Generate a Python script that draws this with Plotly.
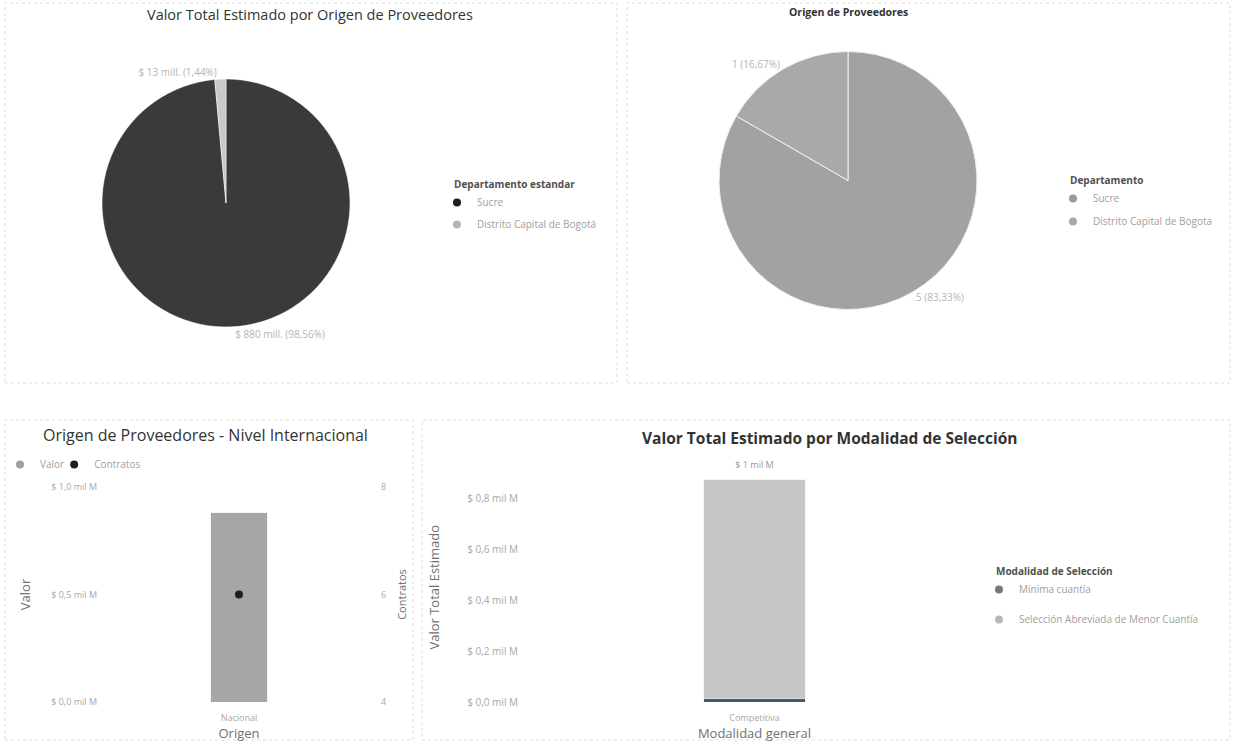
import plotly.graph_objects as go

W, H = 1233, 742

# ---------------- data ----------------
dept_labels_valor = ["Sucre", "Distrito Capital de Bogotá"]
dept_labels_contr = ["Sucre", "Distrito Capital de Bogota"]
valor_mill = [880, 12.9]          # $ mill.
contratos_dept = [5, 1]

origen_cats = ["Nacional"]
origen_valor = [0.88]             # $ mil M
origen_contratos = [6]

modalidad_cats = ["Competitiva"]
minima_cuantia = [0.013]          # $ mil M
seleccion_abreviada = [0.858]     # $ mil M

valor_tickvals = [0, 0.5, 1.0]
valor_ticktext = ["$ 0,0 mil M", "$ 0,5 mil M", "$ 1,0 mil M"]
contratos_tickvals = [4, 6, 8]
modal_tickvals = [0, 0.2, 0.4, 0.6, 0.8]
modal_ticktext = ["$ 0,0 mil M", "$ 0,2 mil M", "$ 0,4 mil M", "$ 0,6 mil M", "$ 0,8 mil M"]

# ---------------- helpers ----------------
def px(x):
    return x / W

def py(y):
    return 1 - y / H

FONT = "Open Sans"
TICK = dict(family=FONT, size=9, color="#a8a8a8")
TICK3 = dict(family=FONT, size=10, color="#a8a8a8")
AXT = dict(family=FONT, size=13, color="#707070")

fig = go.Figure()

# Pie 1
fig.add_trace(go.Pie(
    labels=dept_labels_valor, values=valor_mill, sort=False, direction="clockwise",
    rotation=0, marker=dict(colors=["#3a3a3a", "#c9c9c9"], line=dict(color="#ffffff", width=0.5)),
    textposition="outside", texttemplate="$ %{value:.0f} mill. (%{percent:.2%})",
    textfont=dict(family=FONT, size=10, color="#b4b4b4"),
    domain=dict(x=[px(102), px(350)], y=[py(327), py(79)]), showlegend=False,
))
# Pie 2
fig.add_trace(go.Pie(
    labels=dept_labels_contr, values=contratos_dept, sort=False, direction="clockwise",
    rotation=0, marker=dict(colors=["#a2a2a2", "#a9a9a9"], line=dict(color="#f2f2f2", width=1)),
    textposition="outside", texttemplate="%{value} (%{percent:.2%})",
    textfont=dict(family=FONT, size=10, color="#b4b4b4"),
    domain=dict(x=[px(719), px(977)], y=[py(310), py(51)]), showlegend=False,
))

# Combo chart: bar + dot
fig.add_trace(go.Bar(x=origen_cats, y=origen_valor, width=0.2, marker=dict(color="#a6a6a6"),
                     xaxis="x", yaxis="y", showlegend=False))
fig.add_trace(go.Scatter(x=origen_cats, y=origen_contratos, mode="markers",
                         marker=dict(color="#1e1e1e", size=8), xaxis="x", yaxis="y2", showlegend=False))

# Stacked bar chart
fig.add_trace(go.Bar(x=modalidad_cats, y=minima_cuantia, width=0.215, marker=dict(color="#4b5866"),
                     xaxis="x3", yaxis="y3", showlegend=False))
fig.add_trace(go.Bar(x=modalidad_cats, y=seleccion_abreviada, width=0.215, marker=dict(color="#c6c6c6"),
                     xaxis="x3", yaxis="y3", showlegend=False))
totals = [a + b for a, b in zip(minima_cuantia, seleccion_abreviada)]
fig.add_trace(go.Scatter(x=modalidad_cats, y=totals, mode="markers+text", texttemplate="$ %{y:.0f} mil M",
                         marker=dict(size=14, opacity=0),
                         textposition="top center", textfont=dict(family=FONT, size=9, color="#999999"),
                         xaxis="x3", yaxis="y3", showlegend=False, cliponaxis=False))

# Legend entries (circle markers)
def leg(name, color, legend, group, size=8):
    fig.add_trace(go.Scatter(x=[None], y=[None], mode="markers", name=name,
                             marker=dict(color=color, size=size, symbol="circle"),
                             legend=legend, legendgroup=group, xaxis="x", yaxis="y"))

leg(dept_labels_valor[0], "#1e1e1e", "legend", "a")
leg(dept_labels_valor[1], "#b5b5b5", "legend", "b")
leg(dept_labels_contr[0], "#9a9a9a", "legend2", "c")
leg(dept_labels_contr[1], "#a8a8a8", "legend2", "d")
leg("Valor", "#a0a0a0", "legend3", "e")
leg("Contratos", "#1e1e1e", "legend3", "f")
leg("Mínima cuantía", "#777777", "legend4", "g")
leg("Selección Abreviada de Menor Cuantía", "#b8b8b8", "legend4", "h")

LEGFONT = dict(family=FONT, size=10, color="#a0a0a0")
LEGTITLE = dict(family=FONT, size=10, color="#505050")

fig.update_layout(
    width=W, height=H, margin=dict(l=0, r=0, t=0, b=0, autoexpand=False),
    paper_bgcolor="white", plot_bgcolor="white",
    separators=",.", barmode="stack",
    font=dict(family=FONT),
    xaxis=dict(domain=[px(98), px(380)], range=[-0.5, 0.5], showgrid=False, zeroline=False,
               showline=False, tickfont=TICK, ticks="", ticklabelstandoff=9, automargin=False,
               title=dict(text="Origen", font=AXT, standoff=4)),
    yaxis=dict(domain=[py(702), py(487)], range=[0, 1.0], tickvals=valor_tickvals, automargin=False,
               ticktext=valor_ticktext, showgrid=False, zeroline=False, tickfont=TICK,
               title=dict(text="Valor", font=AXT, standoff=17)),
    yaxis2=dict(overlaying="y", side="right", anchor="x", range=[4, 8], tickvals=contratos_tickvals,
                showgrid=False, zeroline=False, tickfont=TICK, automargin=False,
                title=dict(text="Contratos", font=dict(family=FONT, size=11, color="#707070"), standoff=13)),
    xaxis3=dict(domain=[px(519), px(990)], range=[-0.5, 0.5], anchor="y3", showgrid=False,
                zeroline=False, tickfont=TICK, ticks="", ticklabelstandoff=9, automargin=False,
                title=dict(text="Modalidad general", font=AXT, standoff=4)),
    yaxis3=dict(domain=[py(702), py(472.5)], range=[0, 0.9], anchor="x3", tickvals=modal_tickvals,
                ticktext=modal_ticktext, showgrid=False, zeroline=False, tickfont=TICK3, automargin=False,
                title=dict(text="Valor Total Estimado", font=AXT, standoff=24)),
    legend=dict(x=px(452), y=py(175), xanchor="left", yanchor="top", bgcolor="rgba(0,0,0,0)",
                title=dict(text="<b>Departamento estandar</b>", font=LEGTITLE), font=LEGFONT,
                traceorder="grouped", tracegroupgap=3, indentation=-15),
    legend2=dict(x=px(1068), y=py(171), xanchor="left", yanchor="top", bgcolor="rgba(0,0,0,0)",
                 title=dict(text="<b>Departamento</b>", font=LEGTITLE), font=LEGFONT,
                 traceorder="grouped", tracegroupgap=4, indentation=-15),
    legend3=dict(x=px(15), y=py(450), xanchor="left", yanchor="top", orientation="h",
                 bgcolor="rgba(0,0,0,0)", font=LEGFONT, tracegroupgap=0, indentation=-15),
    legend4=dict(x=px(994), y=py(562), xanchor="left", yanchor="top", bgcolor="rgba(0,0,0,0)",
                 title=dict(text="<b>Modalidad de Selección</b>", font=LEGTITLE), font=LEGFONT,
                 traceorder="grouped", tracegroupgap=11, indentation=-15),
)

# Panel borders
for x0, y0, x1, y1 in [(5, 3, 617, 383), (627, 3, 1230, 383), (5, 420, 413, 740), (422, 420, 1230, 740)]:
    fig.add_shape(type="rect", xref="paper", yref="paper", x0=px(x0), y0=py(y1), x1=px(x1), y1=py(y0),
                  line=dict(color="#dddddd", width=1, dash="dot"), fillcolor="rgba(0,0,0,0)", layer="below")

# Titles
titles = [
    ("Valor Total Estimado por Origen de Proveedores", 310, 15, 14.5),
    ("<b>Origen de Proveedores</b>", 848, 12, 10.5),
    ("Origen de Proveedores - Nivel Internacional", 205, 435, 16),
    ("<b>Valor Total Estimado por Modalidad de Selección</b>", 829, 438, 15.5),
]
for text, x, y, s in titles:
    fig.add_annotation(text=text, x=px(x), y=py(y), xref="paper", yref="paper", showarrow=False,
                       xanchor="center", yanchor="middle",
                       font=dict(family=FONT, size=s, color="#333333"))

fig.write_html("out.html", config={"displayModeBar": False},
               post_script="document.body.style.margin='0px';")
